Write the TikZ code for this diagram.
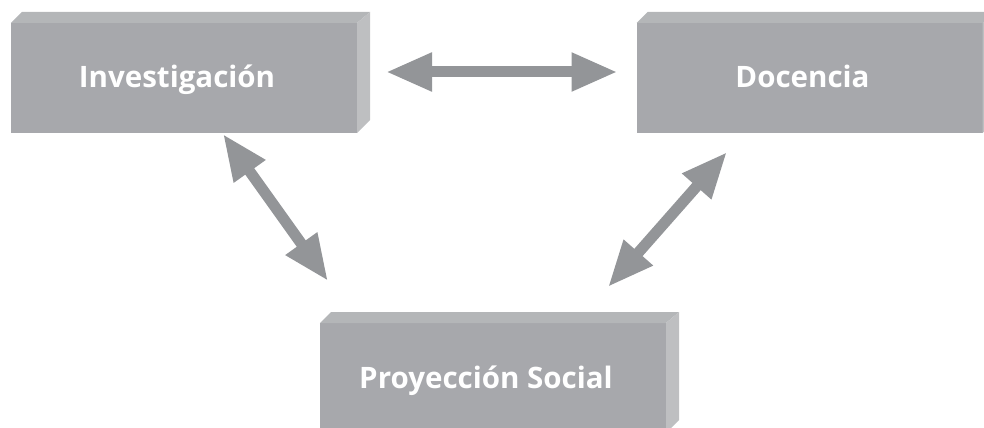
\documentclass[tikz,border=0pt]{standalone}
\usepackage{fontspec}
\setsansfont{Open Sans}
\usetikzlibrary{arrows.meta}

\definecolor{facegray}{RGB}{167,168,172}
\definecolor{topgray}{RGB}{180,182,184}
\definecolor{sidegray}{RGB}{190,191,193}
\definecolor{arrowgray}{RGB}{147,149,152}

\tikzset{
  block/.style={fill=facegray, text=white, inner sep=0pt, outer sep=0pt,
    minimum width=86.5mm, minimum height=27.5mm,
    text height=5.5mm, text depth=0.5mm,
    execute at begin node=\hspace*{-3.5mm},
    font=\sffamily\bfseries\fontsize{21}{25}\selectfont},
  link/.style={draw=arrowgray, line width=2.75mm,
    {Triangle[length=11.5mm,width=9mm]}-{Triangle[length=11.5mm,width=9mm]}},
}

\begin{document}
\begin{tikzpicture}[x=0.25mm, y=-0.25mm]
\useasboundingbox (0,0) rectangle (984,428);
\clip (0,0) rectangle (984,428);

\node[block] (inv) at (184,78) {Investigación};
\node[block] (doc) at (809.5,78) {Docencia};
\node[block] (soc) at (493,378) {Proyección Social};

% top and side faces
\foreach \n in {inv,doc,soc} {
  \fill[topgray] (\n.north west) -- ++(11,-11) -- ([shift={(13,-11)}]\n.north east) -- (\n.north east) -- cycle;
  \fill[sidegray] (\n.north east) -- ++(13,-11) -- ([shift={(13,-13)}]\n.south east) -- (\n.south east) -- cycle;
}

\draw[link] ([shift={(29,-6)}]inv.east) -- ([shift={(-19,-6)}]doc.west);
\draw[link] ([shift={(39,1)}]inv.south) -- ([shift={(8,-42)}]soc.north west);
\draw[link] ([shift={(-82.5,19)}]doc.south) -- ([shift={(-58,-36)}]soc.north east);
\end{tikzpicture}
\end{document}
